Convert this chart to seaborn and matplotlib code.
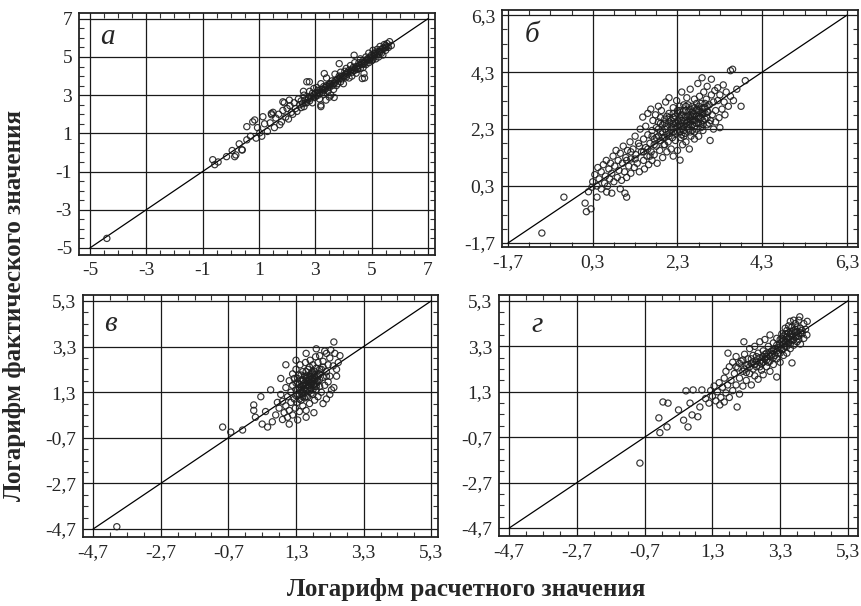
import numpy as np
import pandas as pd
import matplotlib
matplotlib.use("Agg")
import matplotlib.pyplot as plt
import seaborn as sns
from matplotlib.ticker import FixedLocator, FixedFormatter, AutoMinorLocator

# ---------------------------------------------------------
# Data (read off the reference picture, log actual vs log predicted)
# ---------------------------------------------------------
PANEL_LETTERS = ["а", "б", "в", "г"]

TICKS_A = [-5, -3, -1, 1, 3, 5, 7]
TICKS_B = [-1.7, 0.3, 2.3, 4.3, 6.3]
TICKS_V = [-4.7, -2.7, -0.7, 1.3, 3.3, 5.3]
TICKS_G = [-4.7, -2.7, -0.7, 1.3, 3.3, 5.3]

PTS_A = [
    (-4.4, -4.5), (-0.64, -0.38), (-0.57, -0.64), (-0.45, -0.5), (-0.15, -0.22), (0.14, -0.22),
    (0.05, 0.1), (0.39, 0.14), (0.3, 0.45), (0.18, -0.13), (0.41, 0.13), (0.57, 0.66), (0.57, 1.35),
    (0.78, 1.6), (0.85, 1.7), (0.7, 0.85), (0.9, 0.75), (1.03, 1.03), (0.95, 1.3), (1.1, 0.85),
    (1.14, 1.87), (1.2, 1.5), (1.3, 1.1), (1.44, 2.04), (1.45, 1.97), (1.5, 2.1), (1.4, 1.55),
    (1.55, 1.3), (1.74, 1.45), (1.6, 1.8), (1.7, 2.0), (1.8, 1.6), (1.85, 2.65), (1.9, 2.6),
    (1.85, 2.2), (1.95, 1.85), (2.0, 2.3), (2.05, 1.75), (2.08, 2.74), (2.1, 2.45), (2.15, 2.1),
    (2.2, 2.0), (2.25, 2.6), (2.3, 2.3), (2.35, 2.15), (2.4, 2.8), (2.45, 2.5), (2.5, 2.35),
    (2.5, 2.7), (2.55, 2.55), (2.58, 3.2), (2.6, 3.0), (2.6, 2.4), (2.65, 2.75), (2.7, 3.7),
    (2.79, 3.7), (2.7, 2.6), (2.75, 2.9), (2.8, 3.2), (2.8, 2.7), (2.85, 2.95), (2.9, 2.6),
    (2.9, 3.1), (2.95, 3.35), (3.0, 2.9), (3.0, 3.1), (3.05, 3.4), (3.1, 3.0), (3.1, 3.25),
    (3.15, 2.8), (3.2, 2.4), (3.2, 2.48), (3.2, 3.3), (3.2, 3.6), (3.25, 3.15), (3.32, 4.13),
    (3.3, 3.45), (3.3, 3.05), (3.35, 3.3), (3.38, 2.74), (3.4, 3.9), (3.4, 3.5), (3.45, 3.2),
    (3.5, 2.9), (3.5, 3.6), (3.5, 3.4), (3.55, 3.0), (3.6, 3.75), (3.6, 3.5), (3.65, 3.3),
    (3.67, 2.88), (3.7, 3.65), (3.7, 4.1), (3.75, 3.5), (3.8, 3.85), (3.8, 3.6), (3.85, 4.0),
    (3.85, 4.65), (3.9, 3.7), (3.9, 4.2), (3.95, 3.85), (4.0, 4.0), (4.0, 3.6), (4.05, 4.25),
    (4.1, 3.95), (4.1, 4.4), (4.15, 4.1), (4.2, 3.9), (4.2, 4.3), (4.25, 4.55), (4.3, 4.2),
    (4.3, 4.0), (4.35, 4.45), (4.38, 5.09), (4.4, 4.3), (4.4, 4.7), (4.45, 4.15), (4.5, 4.5),
    (4.5, 4.35), (4.55, 4.7), (4.6, 4.4), (4.6, 4.9), (4.65, 4.6), (4.67, 3.87), (4.7, 4.45),
    (4.7, 4.8), (4.73, 4.13), (4.75, 3.9), (4.75, 4.65), (4.8, 5.0), (4.8, 4.6), (4.85, 4.85),
    (4.9, 4.7), (4.9, 5.2), (4.95, 4.95), (5.0, 4.8), (5.0, 5.1), (5.04, 4.85), (5.05, 5.35),
    (5.1, 5.0), (5.1, 5.2), (5.15, 4.9), (5.2, 5.4), (5.2, 5.15), (5.25, 5.0), (5.3, 5.3),
    (5.3, 5.55), (5.35, 5.2), (5.4, 5.45), (5.4, 5.1), (5.45, 5.65), (5.5, 5.35), (5.5, 5.5),
    (5.55, 5.7), (5.6, 5.5), (5.64, 5.8), (5.7, 5.6),
    (3.05, 3.0), (3.15, 3.1), (3.25, 3.3), (3.35, 3.4), (3.45, 3.45), (3.55, 3.6), (3.65, 3.6),
    (3.75, 3.8), (3.85, 3.85), (3.95, 4.0), (4.05, 4.0), (4.15, 4.2), (4.25, 4.25), (4.35, 4.3),
    (4.45, 4.5), (4.55, 4.55), (4.65, 4.7), (4.75, 4.75), (4.85, 4.9), (4.95, 5.0), (5.05, 5.05),
    (5.15, 5.2), (5.25, 5.3), (5.35, 5.4), (5.45, 5.45), (5.55, 5.55), (3.1, 3.15), (3.3, 3.25),
    (3.5, 3.55), (3.7, 3.75), (3.9, 3.95), (4.1, 4.15), (4.3, 4.35), (4.5, 4.4), (4.7, 4.65),
    (4.9, 4.85), (5.1, 5.1), (5.3, 5.25), (5.5, 5.6), (2.85, 2.85), (2.95, 3.0), (2.65, 2.6),
    (2.75, 2.8),
]

PTS_B = [
    (-0.9, -1.35), (-0.38, -0.09), (0.12, -0.3), (0.15, -0.6), (0.26, -0.5), (0.4, -0.09),
    (0.28, 0.26), (0.63, 0.09), (0.75, 0.05), (1.06, 0.05), (1.1, -0.09), (0.95, 0.2), (0.2, 0.1),
    (0.3, 0.45), (0.35, 0.7), (0.4, 0.3), (0.42, 0.95), (0.45, 0.55), (0.5, 0.2), (0.5, 0.8),
    (0.55, 1.05), (0.58, 0.4), (0.6, 0.65), (0.62, 1.2), (0.65, 0.3), (0.68, 0.9), (0.7, 0.55),
    (0.72, 1.1), (0.75, 0.75), (0.78, 1.35), (0.8, 0.45), (0.82, 1.0), (0.85, 1.55), (0.88, 0.6),
    (0.9, 1.2), (0.92, 0.85), (0.95, 1.45), (0.98, 0.5), (1.0, 1.1), (1.02, 1.7), (1.05, 0.8),
    (1.08, 1.3), (1.1, 0.6), (1.12, 1.55), (1.15, 1.0), (1.18, 1.85), (1.2, 1.25), (1.2, 0.75),
    (1.25, 1.6), (1.28, 0.95), (1.3, 2.05), (1.32, 1.4), (1.35, 1.1), (1.38, 1.8), (1.4, 0.8),
    (1.42, 2.3), (1.45, 1.5), (1.48, 2.72), (1.5, 1.2), (1.5, 1.95), (1.52, 0.9), (1.55, 1.65),
    (1.55, 2.4), (1.58, 1.35), (1.6, 2.1), (1.6, 2.85), (1.62, 1.05), (1.65, 1.8), (1.67, 3.0),
    (1.68, 1.5), (1.7, 2.25), (1.7, 1.2), (1.72, 2.6), (1.75, 1.95), (1.75, 1.4), (1.78, 2.8),
    (1.8, 1.7), (1.8, 2.35), (1.82, 1.1), (1.85, 2.05), (1.85, 3.1), (1.88, 1.55), (1.9, 2.5),
    (1.9, 1.9), (1.92, 2.95), (1.95, 1.3), (1.95, 2.2), (1.98, 1.75), (2.0, 2.65), (2.0, 2.0),
    (2.02, 3.25), (2.05, 1.5), (2.05, 2.4), (2.08, 1.85), (2.1, 2.85), (2.1, 3.4), (2.12, 2.15),
    (2.15, 1.6), (2.15, 2.6), (2.18, 2.0), (2.2, 3.05), (2.2, 1.35), (2.2, 2.35), (2.25, 2.75),
    (2.25, 1.9), (2.28, 3.3), (2.3, 2.2), (2.3, 1.55), (2.32, 2.55), (2.35, 2.95), (2.36, 1.21),
    (2.38, 2.0), (2.4, 3.6), (2.4, 2.4), (2.42, 1.75), (2.45, 2.7), (2.45, 3.15), (2.48, 2.15),
    (2.5, 2.5), (2.5, 1.85), (2.52, 3.4), (2.55, 2.3), (2.55, 2.9), (2.58, 1.6), (2.6, 2.65),
    (2.6, 3.7), (2.62, 2.05), (2.65, 3.1), (2.65, 2.45), (2.68, 2.85), (2.7, 1.95), (2.7, 3.35),
    (2.7, 2.6), (2.75, 2.3), (2.75, 3.0), (2.78, 3.9), (2.8, 2.75), (2.8, 2.05), (2.82, 3.45),
    (2.85, 2.5), (2.85, 3.2), (2.88, 4.1), (2.9, 2.85), (2.9, 2.25), (2.92, 3.6), (2.95, 2.65),
    (2.95, 3.05), (2.98, 3.35), (3.0, 2.45), (3.0, 3.8), (3.02, 2.9), (3.05, 3.15), (3.07, 1.9),
    (3.08, 2.6), (3.1, 3.5), (3.1, 4.05), (3.12, 2.8), (3.15, 3.25), (3.15, 2.3), (3.18, 3.65),
    (3.2, 2.95), (3.2, 2.55), (3.25, 3.3), (3.25, 3.75), (3.28, 2.7), (3.3, 2.35), (3.3, 3.5),
    (3.35, 3.0), (3.38, 3.85), (3.4, 3.25), (3.42, 2.8), (3.45, 3.6), (3.5, 3.1), (3.55, 3.45),
    (3.55, 4.35), (3.6, 4.4), (3.62, 3.3), (3.7, 3.7), (3.8, 3.1), (3.9, 4.0),
    (2.0, 2.3), (2.1, 2.55), (2.2, 2.7), (2.3, 2.85), (2.35, 2.45), (2.4, 2.1), (2.45, 2.95),
    (2.5, 2.75), (2.55, 2.55), (2.6, 2.2), (2.6, 3.0), (2.65, 2.75), (2.7, 2.4), (2.75, 2.75),
    (2.8, 2.95), (2.85, 2.35), (2.9, 2.6), (2.95, 2.85), (1.9, 2.2), (1.95, 2.45), (2.05, 2.75),
    (2.15, 2.3), (2.25, 2.5), (2.35, 2.7), (2.45, 2.25), (2.55, 3.15), (2.65, 2.6), (2.75, 3.2),
    (2.85, 2.7), (3.0, 3.1), (1.8, 2.0), (1.85, 2.55), (2.0, 1.75), (2.1, 2.05), (2.2, 2.2),
    (2.3, 2.6), (2.4, 2.8), (2.5, 2.95), (2.6, 2.45), (2.7, 3.05), (2.8, 2.5), (2.9, 3.05),
    (3.0, 2.7),
    (1.85, 2.3), (1.9, 2.7), (1.95, 2.0), (2.0, 2.5), (2.05, 2.1), (2.1, 2.7), (2.15, 2.45),
    (2.2, 2.85), (2.25, 2.15), (2.3, 2.4), (2.35, 2.2), (2.4, 2.6), (2.45, 2.4), (2.5, 2.6),
    (2.55, 2.75), (2.6, 2.55), (2.65, 2.9), (2.7, 2.75), (2.75, 2.5), (2.8, 3.1), (2.85, 2.9),
    (2.9, 2.45), (2.95, 3.2), (3.0, 2.9), (3.05, 2.5), (2.35, 3.1), (2.45, 2.05), (2.55, 2.45),
    (2.65, 2.25), (2.75, 2.95), (2.2, 2.5), (2.3, 2.95), (2.4, 2.3), (2.5, 3.1), (2.6, 2.8),
    (2.7, 2.2), (2.8, 2.65), (2.9, 2.9), (1.75, 1.75), (1.7, 2.05), (1.6, 1.6), (1.5, 1.5),
    (1.4, 1.7), (1.65, 1.35), (1.3, 1.25), (1.2, 1.5), (1.1, 1.2),
]

PTS_V = [
    (-4.0, -4.6), (-0.87, -0.23), (-0.63, -0.45), (-0.28, -0.36), (0.05, 0.74), (0.05, 0.5),
    (0.26, 1.1), (0.1, 0.2), (0.3, -0.1), (0.46, -0.23), (0.55, 1.4), (0.4, 0.45), (0.6, 0.0),
    (0.7, 0.3), (0.75, 0.85), (1.0, 2.5), (1.3, 2.7), (2.42, 3.5), (2.33, 3.15), (2.6, 2.9),
    (2.42, 1.5), (1.83, 0.4), (1.35, 0.08), (1.6, 0.2), (2.1, 0.8), (2.3, 1.2), (2.5, 2.3),
    (2.2, 3.0), (1.9, 3.2), (1.6, 3.0), (0.85, 1.9), (0.9, 0.1), (1.1, -0.1),
    (0.8, 0.6), (0.85, 1.2), (0.9, 0.9), (0.95, 0.4), (1.0, 1.5), (1.0, 0.7), (1.05, 1.1),
    (1.05, 0.2), (1.1, 1.8), (1.1, 0.5), (1.15, 1.3), (1.15, 0.85), (1.2, 2.1), (1.2, 0.3),
    (1.2, 1.6), (1.25, 1.0), (1.25, 1.9), (1.28, 0.6), (1.3, 1.4), (1.3, 2.3), (1.33, 0.85),
    (1.35, 1.7), (1.35, 1.15), (1.38, 2.05), (1.4, 0.45), (1.4, 1.5), (1.42, 2.5), (1.45, 0.95),
    (1.45, 1.8), (1.48, 1.25), (1.5, 2.2), (1.5, 0.7), (1.52, 1.6), (1.55, 1.05), (1.55, 2.0),
    (1.58, 2.6), (1.6, 1.35), (1.6, 0.5), (1.6, 1.8), (1.35, 1.4), (1.45, 1.55), (1.5, 1.3),
    (1.55, 1.7), (1.3, 1.7), (1.4, 1.2), (1.65, 2.3), (1.65, 1.1), (1.68, 1.6), (1.7, 2.0),
    (1.7, 0.8), (1.72, 2.7), (1.75, 1.45), (1.75, 1.85), (1.78, 2.2), (1.8, 1.2), (1.8, 2.5),
    (1.82, 1.65), (1.85, 0.95), (1.85, 2.05), (1.88, 2.85), (1.9, 1.4), (1.9, 2.35), (1.92, 1.8),
    (1.95, 2.6), (1.95, 1.1), (1.98, 2.1), (2.0, 1.55), (2.0, 2.9), (1.7, 1.7), (1.75, 2.1),
    (1.8, 1.9), (1.85, 1.55), (1.9, 2.0), (1.65, 1.95), (1.6, 2.2), (1.7, 1.35), (1.95, 1.75),
    (2.05, 2.3), (2.05, 1.3), (2.1, 1.95), (2.1, 2.65), (2.15, 1.6), (2.15, 3.1), (2.2, 2.2),
    (2.2, 1.0), (2.25, 2.5), (2.25, 1.75), (2.3, 2.8), (2.3, 2.0), (2.35, 1.4), (2.4, 2.45),
    (2.45, 3.0), (2.5, 2.0), (2.55, 2.6), (2.1, 2.4), (2.2, 2.0), (2.0, 2.3),
    (1.4, 1.65), (1.45, 1.4), (1.5, 1.85), (1.55, 1.45), (1.6, 1.6), (1.65, 1.75), (1.7, 1.5),
    (1.75, 1.65), (1.8, 1.75), (1.85, 1.85), (1.9, 1.7), (1.5, 1.1), (1.55, 1.25), (1.6, 2.0),
    (1.65, 1.45), (1.7, 1.85), (1.75, 2.0), (1.8, 1.4), (1.85, 2.2), (1.9, 1.55), (1.95, 2.0),
    (2.0, 1.85), (1.45, 2.05), (1.4, 1.0), (1.35, 1.9), (1.3, 1.15), (1.6, 1.1), (1.7, 2.4),
    (1.8, 2.1), (2.0, 2.1), (1.75, 1.25), (1.5, 1.6), (1.65, 1.6), (1.6, 1.9), (1.85, 1.65),
]

PTS_G = [
    (-0.84, -1.84), (-0.16, 0.85), (-0.01, 0.8), (-0.28, 0.15), (-0.25, -0.5), (-0.04, -0.25),
    (0.58, -0.25), (0.7, 0.28), (0.87, 0.2), (0.52, 1.34), (0.73, 1.38), (0.99, 1.38),
    (0.64, 0.8), (0.93, 0.63), (0.3, 0.5), (0.45, 0.05), (1.1, 1.0), (1.2, 0.8),
    (1.25, 1.35), (1.3, 1.1), (1.35, 1.55), (1.4, 0.9), (1.45, 1.3), (1.52, 0.72), (1.5, 1.7),
    (1.55, 1.05), (1.6, 1.5), (1.65, 1.9), (1.65, 0.85), (1.7, 1.25), (1.7, 2.2), (1.76, 3.0),
    (1.75, 1.6), (1.8, 1.05), (1.8, 2.4), (1.85, 1.8), (1.9, 2.6), (1.9, 1.35), (1.95, 2.1),
    (2.0, 1.6), (2.03, 0.63), (2.0, 2.85), (2.05, 2.35), (2.1, 1.9), (2.1, 1.2), (2.15, 2.65),
    (2.2, 2.2), (2.23, 3.5), (2.2, 1.55), (2.25, 2.95), (2.3, 2.45), (2.3, 1.8), (2.35, 2.75),
    (2.4, 2.1), (2.4, 3.2), (2.45, 2.55), (2.45, 1.6), (2.5, 2.9), (2.5, 2.3), (2.0, 2.4),
    (2.1, 2.55), (2.2, 2.7), (2.3, 2.15), (2.4, 2.4), (2.55, 2.0), (2.55, 3.3), (2.6, 2.65),
    (2.6, 2.4), (2.65, 3.0), (2.65, 1.85), (2.7, 2.8), (2.7, 3.5), (2.75, 2.25), (2.75, 2.55),
    (2.8, 3.1), (2.8, 2.05), (2.85, 2.75), (2.85, 3.6), (2.9, 2.4), (2.9, 3.0), (2.95, 2.6),
    (2.95, 3.3), (3.0, 2.2), (3.0, 2.85), (3.0, 3.8), (3.05, 3.1), (3.1, 2.5), (3.1, 3.45),
    (2.6, 2.85), (2.7, 2.6), (2.8, 2.85), (2.9, 2.7), (3.0, 3.0), (3.1, 2.8), (3.2, 1.95),
    (3.15, 3.2), (3.2, 2.75), (3.2, 3.65), (3.25, 3.0), (3.3, 3.4), (3.3, 2.6), (3.35, 3.85),
    (3.35, 3.15), (3.4, 2.9), (3.4, 3.55), (3.45, 4.1), (3.45, 3.3), (3.5, 3.7), (3.5, 3.0),
    (3.55, 3.45), (3.55, 4.2), (3.6, 3.2), (3.6, 3.85), (3.65, 2.57), (3.65, 3.55), (3.7, 4.0),
    (3.7, 3.35), (3.3, 3.2), (3.4, 3.4), (3.5, 3.5), (3.6, 3.6), (3.4, 3.75), (3.5, 3.3),
    (3.55, 3.9), (3.65, 3.75), (3.2, 3.35), (3.3, 3.6), (3.75, 3.7), (3.75, 4.3), (3.8, 3.5),
    (3.8, 3.95), (3.85, 4.45), (3.85, 3.75), (3.88, 4.6), (3.9, 4.1), (3.9, 3.4), (3.95, 3.85),
    (4.0, 4.3), (4.0, 3.65), (4.05, 4.05), (4.09, 3.8), (4.1, 4.4), (3.7, 4.45), (3.6, 4.4),
    (3.5, 4.0), (3.95, 4.0), (3.8, 3.75),
    (2.9, 2.85), (3.0, 2.65), (3.05, 2.95), (3.1, 3.1), (3.15, 2.9), (3.2, 3.1), (3.25, 3.25),
    (3.3, 3.0), (3.35, 3.5), (3.4, 3.2), (3.45, 3.5), (3.5, 3.85), (3.55, 3.65), (3.6, 3.4),
    (3.65, 3.95), (3.7, 3.6), (3.75, 3.9), (3.8, 4.15), (3.85, 3.6), (3.9, 3.9), (2.7, 2.4),
    (2.75, 2.7), (2.8, 2.6), (2.85, 2.95), (2.5, 2.6), (2.55, 2.5), (2.35, 2.5), (2.25, 2.3),
    (2.45, 2.75), (3.35, 3.65), (3.45, 3.85), (3.65, 4.15), (3.75, 4.05),
]

# ---------------------------------------------------------
# Layout
# ---------------------------------------------------------
sns.set_theme(style="white")
plt.rcParams["font.family"] = ["Liberation Serif", "DejaVu Serif"]

fig = plt.figure(figsize=(8.62, 6.06), dpi=100)

panels = [
    (PTS_A, TICKS_A, [0.0916, 0.5792, 0.4130, 0.3993], (-5.39, 7.25), (-5.37, 7.3), (0.079, 0.90)),
    (PTS_B, TICKS_B, [0.5824, 0.5924, 0.4130, 0.3911], (-1.84, 6.56), (-1.84, 6.48), (0.084, 0.895)),
    (PTS_V, TICKS_V, [0.0963, 0.1139, 0.4118, 0.3993], (-5.0, 5.5), (-5.05, 5.56), (0.076, 0.88)),
    (PTS_G, TICKS_G, [0.5789, 0.1155, 0.4165, 0.3977], (-5.0, 5.6), (-5.05, 5.56), (0.106, 0.875)),
]

for (pts, ticks, rect, xlim, ylim, lpos), letter in zip(panels, PANEL_LETTERS):
    ax = fig.add_axes(rect)
    df = pd.DataFrame(pts, columns=["calc", "fact"])

    # y = x reference line between the outer ticks
    ax.plot([ticks[0], ticks[-1]], [ticks[0], ticks[-1]], color="black", lw=0.9, zorder=2)

    sns.scatterplot(data=df, x="calc", y="fact", ax=ax, marker="o", s=20,
                    fc="none", ec="#1e1e1e", linewidth=0.85, alpha=0.9, zorder=3)

    labels = [f"{t:g}".replace(".", ",") for t in ticks]
    for axis in (ax.xaxis, ax.yaxis):
        axis.set_major_locator(FixedLocator(ticks))
        axis.set_major_formatter(FixedFormatter(labels))
        axis.set_minor_locator(AutoMinorLocator(4))

    ax.set_xlim(*xlim)
    ax.set_ylim(*ylim)
    ax.grid(True, which="major", color="#1a1a1a", lw=0.9)
    ax.set_axisbelow(True)
    ax.tick_params(which="both", direction="in", top=True, right=True, bottom=True, left=True,
                   labelsize=14, pad=5, color="#333333")
    ax.tick_params(which="major", length=0)
    ax.tick_params(which="minor", length=3.5, width=0.8)
    for sp in ax.spines.values():
        sp.set_color("#222222")
        sp.set_linewidth(1.3)
    ax.set_xlabel("")
    ax.set_ylabel("")

    ax.text(lpos[0], lpos[1], letter, transform=ax.transAxes, fontsize=21,
            fontstyle="italic", ha="center", va="center")

fig.text(0.017, 0.496, "Логарифм фактического значения", rotation=90, ha="center", va="center",
         fontsize=18, fontweight="bold")
fig.text(0.541, 0.027, "Логарифм расчетного значения", ha="center", va="center",
         fontsize=18, fontweight="bold")

fig.savefig("out.png", dpi=100)
